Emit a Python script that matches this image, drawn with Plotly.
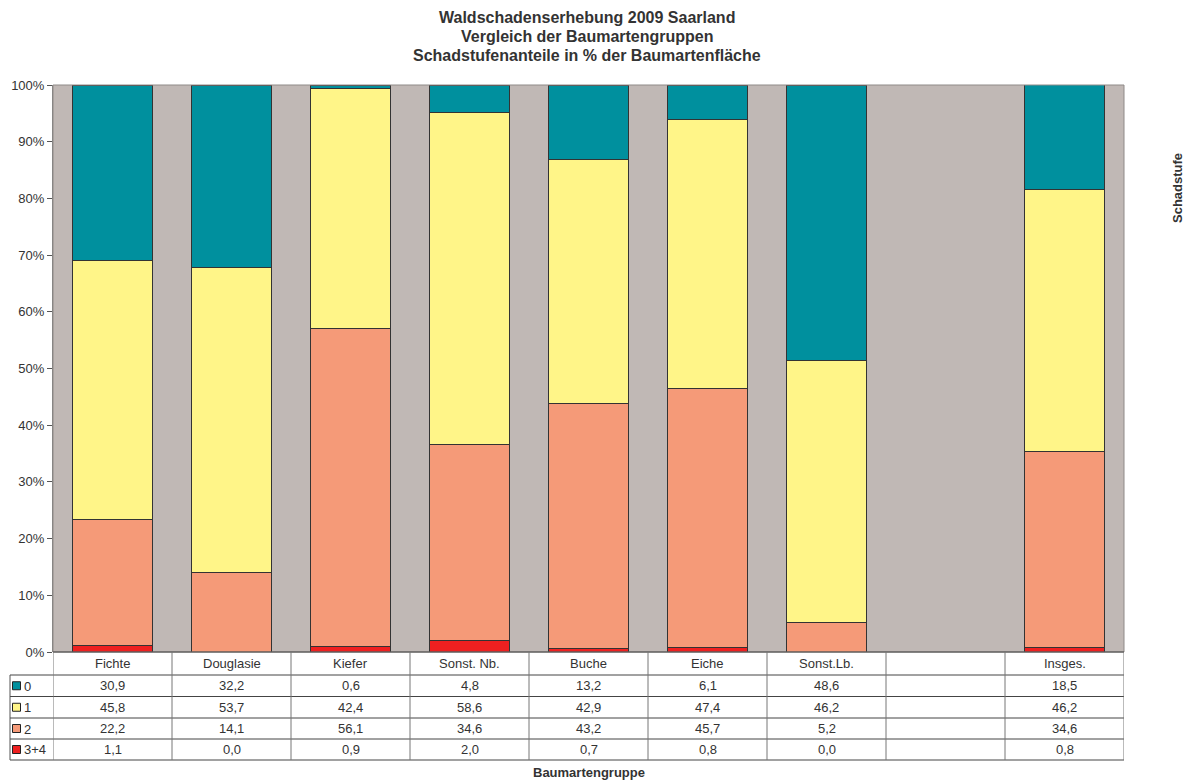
import plotly.graph_objects as go

# Tree species groups (the blank column separates the total)
categories = ["Fichte", "Douglasie", "Kiefer", "Sonst. Nb.", "Buche", "Eiche", "Sonst.Lb.", " ", "Insges."]

# Share of area per damage class, in %
stufe_0 = [30.9, 32.2, 0.6, 4.8, 13.2, 6.1, 48.6, None, 18.5]
stufe_1 = [45.8, 53.7, 42.4, 58.6, 42.9, 47.4, 46.2, None, 46.2]
stufe_2 = [22.2, 14.1, 56.1, 34.6, 43.2, 45.7, 5.2, None, 34.6]
stufe_34 = [1.1, 0.0, 0.9, 2.0, 0.7, 0.8, 0.0, None, 0.8]

series_names = ["0", "1", "2", "3+4"]
series_values = [stufe_0, stufe_1, stufe_2, stufe_34]
series_colors = ["#00909E", "#FFF588", "#F59A78", "#EE2020"]

y_ticks = [0, 10, 20, 30, 40, 50, 60, 70, 80, 90, 100]

W, H = 1187, 780
L, R, T, B = 53, 1124, 85, 652
FONT = "Liberation Sans, Arial, sans-serif"
TXT = "#333333"
FS = 13

fig = go.Figure()

# stack bottom-up: 3+4, 2, 1, 0
for name, vals, col in reversed(list(zip(series_names, series_values, series_colors))):
    fig.add_trace(go.Bar(
        x=categories, y=[v if v is not None else 0 for v in vals], name=name,
        marker=dict(color=col, line=dict(color="#333333", width=1)),
        width=0.67, showlegend=False,
    ))

fig.update_layout(
    width=W, height=H,
    margin=dict(l=L, r=W - R, t=T, b=H - B),
    barmode="stack",
    paper_bgcolor="white",
    plot_bgcolor="#C0B8B5",
    font=dict(family=FONT, size=FS, color=TXT),
    xaxis=dict(showticklabels=False, ticks="", showgrid=False, zeroline=False,
               range=[-0.5, len(categories) - 0.5], fixedrange=True),
    yaxis=dict(range=[0, 100], tickvals=y_ticks, ticktext=[f"{v}%" for v in y_ticks],
               ticks="outside", ticklen=5, tickcolor="#555555", showgrid=False,
               zeroline=False, showline=True, linecolor="#808080",
               tickfont=dict(size=FS, color=TXT)),
)

plot_h = B - T
plot_w = R - L


def py(pix):
    """Pixel row to paper y."""
    return (B - pix) / plot_h


def px(pix):
    """Pixel column to paper x."""
    return (pix - L) / plot_w


annotations = []
shapes = []

# plot-area frame
shapes.append(dict(type="rect", xref="paper", yref="paper", x0=0, x1=1, y0=0, y1=1,
                   line=dict(color="#8F8A88", width=1)))

# title
title_lines = ["Waldschadenserhebung 2009 Saarland",
               "Vergleich der Baumartengruppen",
               "Schadstufenanteile in % der Baumartenfläche"]
for i, line in enumerate(title_lines):
    annotations.append(dict(xref="paper", yref="paper", x=px(587), y=py(17.5 + 19 * i),
                            text=f"<b>{line}</b>", showarrow=False,
                            font=dict(size=16, color=TXT), xanchor="center", yanchor="middle"))

# data table below the bars
row_edges = [652, 675, 696.5, 718, 739, 760]
legend_left = 10
n = len(categories)

# header row: category names
for i, c in enumerate(categories):
    annotations.append(dict(xref="x", yref="paper", x=i, y=py((row_edges[0] + row_edges[1]) / 2),
                            text=c.strip(), showarrow=False, font=dict(size=FS, color=TXT),
                            xanchor="center", yanchor="middle"))

# value rows with legend keys
for r, (name, vals, col) in enumerate(zip(series_names, series_values, series_colors)):
    yc = (row_edges[r + 1] + row_edges[r + 2]) / 2
    for i, v in enumerate(vals):
        if v is None:
            continue
        annotations.append(dict(xref="x", yref="paper", x=i, y=py(yc),
                                text=f"{v:.1f}".replace(".", ","), showarrow=False,
                                font=dict(size=FS, color=TXT), xanchor="center", yanchor="middle"))
    shapes.append(dict(type="rect", xref="paper", yref="paper",
                       x0=px(12.5), x1=px(20.5), y0=py(yc + 4), y1=py(yc - 4),
                       fillcolor=col, line=dict(color="#222222", width=1)))
    annotations.append(dict(xref="paper", yref="paper", x=px(22), y=py(yc + 0.5),
                            text=name, showarrow=False, font=dict(size=FS, color=TXT),
                            xanchor="left", yanchor="middle"))

# horizontal table lines
for k, e in enumerate(row_edges):
    x0 = px(L) if k == 0 else px(legend_left)
    shapes.append(dict(type="line", xref="paper", yref="paper", x0=x0, x1=1, y0=py(e), y1=py(e),
                       line=dict(color="#444444", width=1)))

# vertical table lines
for i in range(n + 1):
    shapes.append(dict(type="line", xref="x", yref="paper", x0=i - 0.5, x1=i - 0.5,
                       y0=py(row_edges[0]), y1=py(row_edges[-1]),
                       line=dict(color="#777777", width=1)))
shapes.append(dict(type="line", xref="paper", yref="paper", x0=px(legend_left), x1=px(legend_left),
                   y0=py(row_edges[1]), y1=py(row_edges[-1]), line=dict(color="#555555", width=1)))

# axis titles
annotations.append(dict(xref="paper", yref="paper", x=px(589), y=py(772),
                        text="<b>Baumartengruppe</b>", showarrow=False,
                        font=dict(size=13, color=TXT), xanchor="center", yanchor="middle"))
annotations.append(dict(xref="paper", yref="paper", x=px(1177), y=py(188),
                        text="<b>Schadstufe</b>", showarrow=False, textangle=-90,
                        font=dict(size=13, color=TXT), xanchor="center", yanchor="middle"))

fig.update_layout(annotations=annotations, shapes=shapes)

fig.write_html("out.html")
